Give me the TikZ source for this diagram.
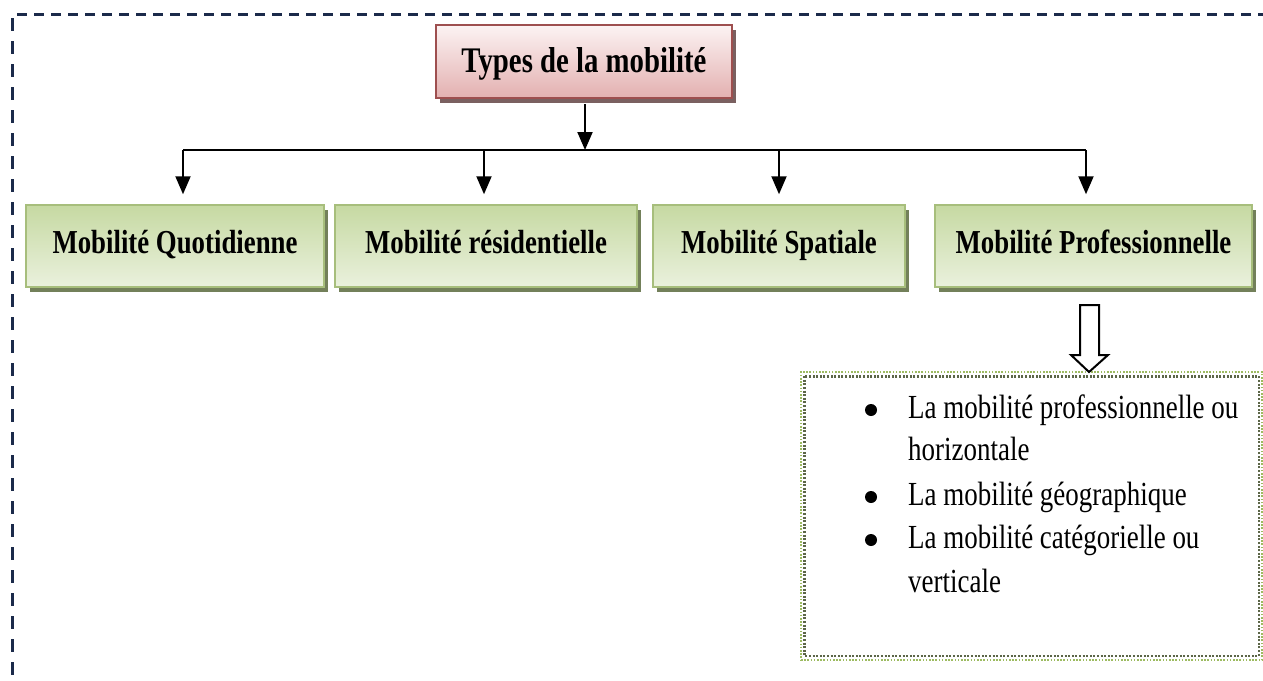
\documentclass[tikz,border=0pt]{standalone}
\usepackage{fontspec}
\setmainfont[FakeStretch=0.8]{Liberation Serif}
\usetikzlibrary{arrows.meta,shadows,calc}

\definecolor{framenavy}{HTML}{1B2A4A}
\definecolor{roseborder}{HTML}{9E4F4F}
\definecolor{rosetop}{HTML}{FCF3F3}
\definecolor{rosebot}{HTML}{E3B0B0}
\definecolor{roseshadow}{HTML}{7A6060}
\definecolor{greenborder}{HTML}{A7BE7C}
\definecolor{greentop}{HTML}{C6D9A2}
\definecolor{greenmid}{HTML}{E6EED7}
\definecolor{greenbot}{HTML}{EAF1DD}
\definecolor{greenshadow}{HTML}{73805A}
\definecolor{dotlight}{HTML}{9DBB61}
\definecolor{dotdark}{HTML}{5C6648}

\begin{document}
\begin{tikzpicture}[x=1pt,y=-1pt,
  titlebox/.style={draw=roseborder, line width=2pt,
    top color=rosetop, bottom color=rosebot,
    minimum width=296pt, minimum height=73pt, inner sep=0pt,
    text height=27pt, text depth=5pt,
    font=\fontsize{36}{40}\selectfont\bfseries,
    drop shadow={shadow xshift=4pt, shadow yshift=-5pt, fill=roseshadow, opacity=1}},
  typebox/.style={draw=greenborder, line width=1.5pt,
    top color=greentop, middle color=greenmid, bottom color=greenbot,
    minimum height=82pt, inner sep=0pt,
    text height=23pt, text depth=9pt,
    font=\fontsize{33.5}{38}\selectfont\bfseries,
    drop shadow={shadow xshift=4pt, shadow yshift=-5pt, fill=greenshadow, opacity=1}},
  listbox/.style={draw=dotlight, line width=1.6pt, dash pattern=on 1.6pt off 1.6pt,
    minimum width=461pt, minimum height=288pt, inner sep=0pt},
  listline/.style={anchor=base west, inner sep=0pt, font=\fontsize{33.7}{40}\selectfont},
  dot/.style={circle, fill=black, inner sep=0pt, minimum size=12pt},
  link/.style={draw=black, line width=2pt},
  arr/.style={link, -{Triangle[width=15pt,length=18pt]}},
  hollow/.style={draw=black, line width=2pt, fill=white, line join=miter}
]
\useasboundingbox (0,0) rectangle (1263,680);

% dashed frame (top and left sides)
\draw[framenavy, line width=3pt, dash pattern=on 10pt off 7pt] (17,14) -- (1263,14);
\draw[framenavy, line width=3pt, dash pattern=on 13pt off 10pt] (12,18) -- (12,680);

% title
\node[titlebox] (title) at (584,61.5) {Types de la mobilité};

% the four types
\node[typebox, minimum width=298pt] (quot) at (175,246) {Mobilité Quotidienne};
\node[typebox, minimum width=302pt] (resi) at (486,246) {Mobilité résidentielle};
\node[typebox, minimum width=252pt] (spat) at (779,246) {Mobilité Spatiale};
\node[typebox, minimum width=317pt] (prof) at (1093.5,246) {Mobilité Professionnelle};

% distribution bar
\coordinate (hub) at (585,150);
\coordinate (j1) at (183,150);
\coordinate (j2) at (484,150);
\coordinate (j3) at (779,150);
\coordinate (j4) at (1086,150);

\draw[arr, shorten <=5pt] (title.south -| hub) -- (hub);
\draw[link] (j1) -- (j4);
\draw[arr, shorten >=10pt] (j1) -- (j1 |- quot.north);
\draw[arr, shorten >=10pt] (j2) -- (j2 |- resi.north);
\draw[arr, shorten >=10pt] (j3) -- (j3 |- spat.north);
\draw[arr, shorten >=10pt] (j4) -- (j4 |- prof.north);

% details of professional mobility
\node[listbox] (lst) at (1031.5,516) {};
\draw[dotdark, line width=2.6pt, dash pattern=on 2pt off 1.6pt]
  ([shift={(4pt,-5pt)}]lst.north west) rectangle ([shift={(-4pt,5pt)}]lst.south east);

% hollow block arrow
\coordinate (tip) at (1089,372);
\draw[hollow] (tip) -- ++(-18,-17) -- ++(9,0) -- ++(0,-50) -- ++(19,0)
  -- ++(0,50) -- ++(9,0) -- cycle;

\node[dot] (d1) at (871,410) {};
\node[dot] (d2) at (871,497) {};
\node[dot] (d3) at (871,540) {};
\node[listline] (l1) at (908,418) {La mobilité professionnelle ou};
\node[listline] (l2) at (908,460) {horizontale};
\node[listline] (l3) at (908,505) {La mobilité géographique};
\node[listline] (l4) at (908,548) {La mobilité catégorielle ou};
\node[listline] (l5) at (908,592) {verticale};
\end{tikzpicture}
\end{document}
